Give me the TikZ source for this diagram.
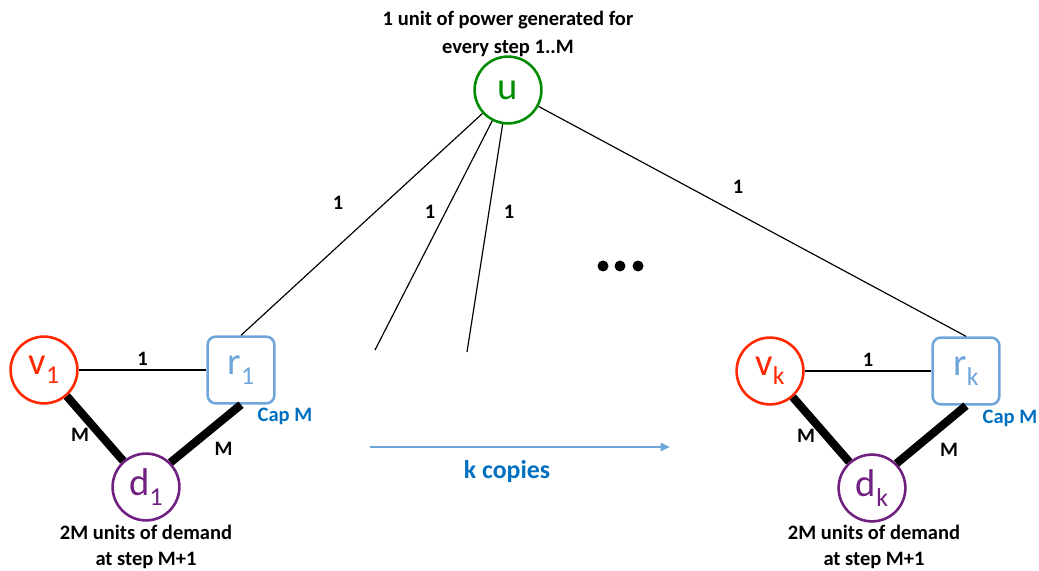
\documentclass[tikz,border=0pt]{standalone}
\usepackage{fontspec}
\setmainfont{Carlito}
\usetikzlibrary{positioning,arrows.meta}

\definecolor{vred}{RGB}{255,40,0}
\definecolor{rblue}{RGB}{110,165,218}
\definecolor{capblue}{RGB}{0,112,192}
\definecolor{dpurple}{RGB}{112,32,128}
\definecolor{ugreen}{RGB}{0,140,0}

\newcommand{\subidx}[1]{\raisebox{-8pt}{\fontsize{22}{22}\selectfont #1}}

\tikzset{
  vert/.style = {circle, draw, line width = 2.2pt, minimum size = 57pt, inner sep = 0pt, font = \fontsize{33}{35}\selectfont},
  relay/.style = {rectangle, rounded corners = 7pt, draw = rblue, text = rblue, line width = 2.2pt, minimum size = 57pt, inner sep = 0pt, font = \fontsize{33}{35}\selectfont},
  lbl/.style = {font = \bfseries\fontsize{17.5}{22.5}\selectfont},
  thin/.style = {line width = 1pt},
  heavy/.style = {line width = 7pt},
}

\begin{document}
\begin{tikzpicture}[x = 0.03cm, y = -0.03cm]

      \useasboundingbox (0, 0) rectangle (1039, 571);

      % generator
      \node[vert, draw = ugreen, text = ugreen] (u) at (508, 90) {u};
      \node[lbl, align = center, font = \bfseries\fontsize{17.5}{23.5}\selectfont] (note) at (508, 34) {1 unit of power generated for\\every step 1..M};

      % first copy
      \node[vert, draw = vred, text = vred] (v1) at (44, 370) {v\subidx{1}};
      \node[relay] (r1) at (241, 370) {r\subidx{1}};
      \node[vert, draw = dpurple, text = dpurple] (d1) at (146, 487) {d\subidx{1}};
      \node[lbl, text = capblue] (cap1) at (285, 416) {Cap M};
      \node[lbl, align = center] (dem1) at (146, 547) {2M units of demand\\at step M+1};

      % last copy
      \node[vert, draw = vred, text = vred] (vk) at (770, 371) {v\subidx{k}};
      \node[relay] (rk) at (966, 371) {r\subidx{k}};
      \node[vert, draw = dpurple, text = dpurple] (dk) at (872, 488) {d\subidx{k}};
      \node[lbl, text = capblue] (capk) at (1010, 418) {Cap M};
      \node[lbl, align = center] (demk) at (874, 547) {2M units of demand\\at step M+1};

      \coordinate (a) at (375, 350);
      \coordinate (b) at (467, 352);

      \draw[thin] (v1) -- node[lbl, above] {1} (r1);
      \draw[heavy] (v1) -- node[lbl, pos = 0.6, left = 3pt] {M} (d1);
      \draw[heavy] (r1.south) -- node[lbl, below right = 1pt] {M} (d1.45);
      \draw[thin] (vk) -- node[lbl, above] {1} (rk);
      \draw[heavy] (vk) -- node[lbl, pos = 0.6, left = 3pt] {M} (dk);
      \draw[heavy] (rk.south) -- node[lbl, below right = 1pt] {M} (dk.45);

      \draw[thin] (u) -- (r1.north);
      \draw[thin] (u) -- (a);
      \draw[thin] (u) -- (b);
      \draw[thin] (u) -- (rk.north);
      \node[lbl] at (338, 203) {1};
      \node[lbl] at (430, 212) {1};
      \node[lbl] at (509, 212) {1};
      \node[lbl] at (738, 187) {1};

      \foreach \x in {603, 620, 638}
        \fill (\x, 266) circle (5.5);

      \coordinate (from) at (370, 447);
      \coordinate (to) at (670, 447);
      \draw[rblue, line width = 2pt, -{Triangle[length = 8pt, width = 7pt]}] (from) -- (to);
      \node[lbl, text = capblue, font = \bfseries\fontsize{22}{24}\selectfont] (kc) at (507, 471) {k copies};

    \end{tikzpicture}
\end{document}
